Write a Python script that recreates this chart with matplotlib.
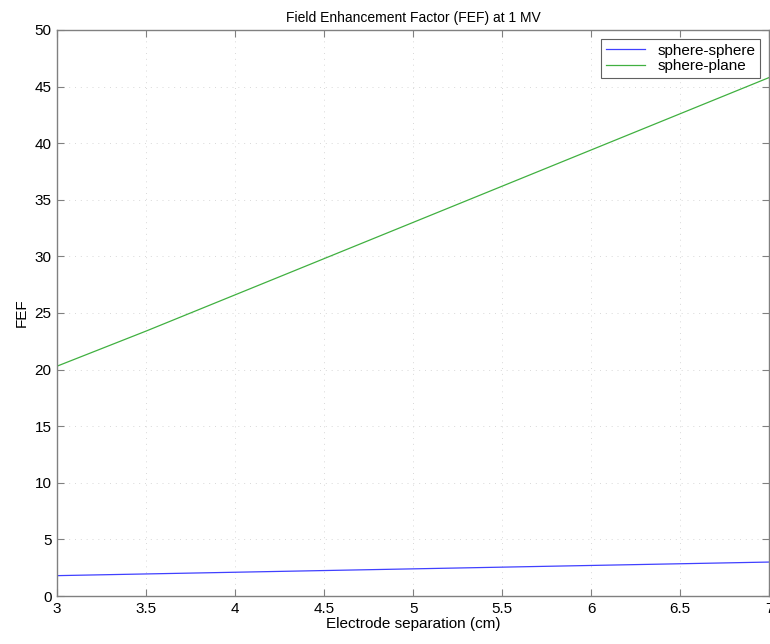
import matplotlib
matplotlib.use('Agg')
import matplotlib.pyplot as plt
import numpy as np

# electrode gap (cm) and field enhancement factor for the two geometries
separation = [3.0, 3.5, 4.0, 4.5, 5.0, 5.5, 6.0, 6.5, 7.0]
fef_sphere_sphere = [1.8, 1.95, 2.1, 2.25, 2.4, 2.55, 2.7, 2.85, 3.0]
fef_sphere_plane = [20.3, 23.4, 26.6, 29.8, 33.0, 36.2, 39.4, 42.6, 45.8]

xticks = [3, 3.5, 4, 4.5, 5, 5.5, 6, 6.5, 7]
yticks = [0, 5, 10, 15, 20, 25, 30, 35, 40, 45, 50]

plt.rcParams['font.family'] = ['Liberation Sans', 'DejaVu Sans']

fig = plt.figure(figsize=(7.7, 6.44), dpi=100)
ax = fig.add_axes([0.074, 0.0745, 0.925, 0.879])

ax.plot(separation, fef_sphere_sphere, color='#4040ff', lw=0.9, label='sphere-sphere')
ax.plot(separation, fef_sphere_plane, color='#40b040', lw=0.9, label='sphere-plane')

ax.set_xlim(3, 7)
ax.set_ylim(0, 50)
ax.set_xticks(xticks)
ax.set_xticklabels(['%g' % t for t in xticks])
ax.set_yticks(yticks)

# faint dotted MATLAB-style grid
ax.grid(True, linestyle=(0, (1, 5)), color='#d8d8d8', lw=0.7)
for s in ax.spines.values():
    s.set_color('#808080')
    s.set_linewidth(1.0)
ax.tick_params(direction='in', top=True, right=True, length=5,
               color='#808080', labelsize=11, pad=4)

ax.set_title('Field Enhancement Factor (FEF) at 1 MV', fontsize=10, pad=6)
ax.set_xlabel('Electrode separation (cm)', fontsize=11, labelpad=1)
ax.set_ylabel('FEF', fontsize=11, labelpad=4)

leg = ax.legend(loc='upper right', fontsize=11, fancybox=False, framealpha=1,
                edgecolor='#606060', handlelength=2.6, borderpad=0.3,
                labelspacing=0.1, borderaxespad=0.6)
leg.get_frame().set_linewidth(0.8)

fig.savefig('out.png', dpi=100)
